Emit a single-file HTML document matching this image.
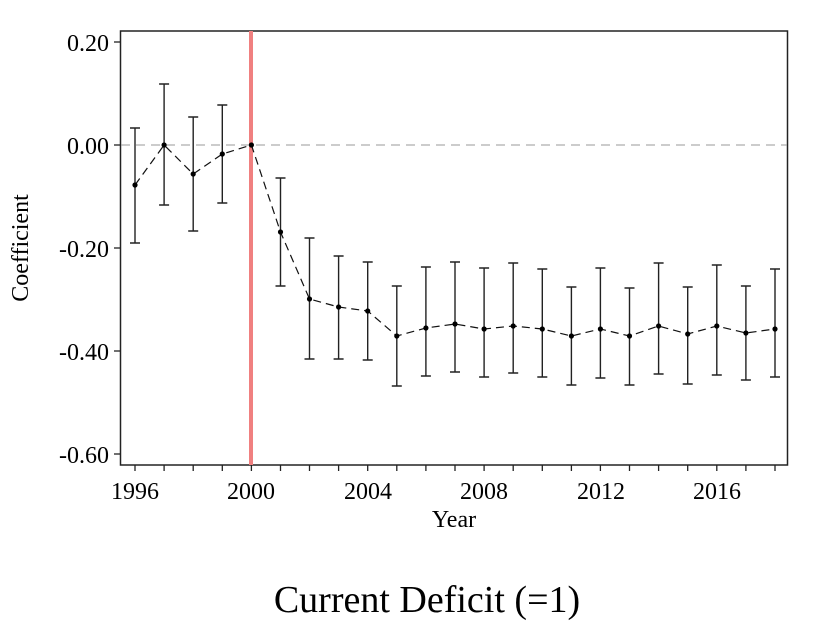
<!DOCTYPE html>
<html><head><meta charset="utf-8"><style>body{margin:0;background:#fff}svg{display:block}</style></head><body>
<svg width="817" height="627" xmlns="http://www.w3.org/2000/svg" font-family="Liberation Serif, serif">
<rect x="120.5" y="31" width="667" height="434" fill="none" stroke="#222" stroke-width="1.5"/>
<line x1="121" y1="145" x2="787" y2="145" stroke="#999" stroke-width="1" stroke-dasharray="9,6"/>
<line x1="251" y1="31" x2="251" y2="465" stroke="#f08080" stroke-width="4"/>
<g stroke="#222" stroke-width="1.3">
<line x1="114" y1="42" x2="120" y2="42"/><line x1="114" y1="145" x2="120" y2="145"/><line x1="114" y1="248" x2="120" y2="248"/><line x1="114" y1="351" x2="120" y2="351"/><line x1="114" y1="454" x2="120" y2="454"/>
<path d="M135 465v6M164.1 465v6M193.2 465v6M222.3 465v6M251.4 465v6M280.5 465v6M309.5 465v6M338.6 465v6M367.7 465v6M396.8 465v6M425.9 465v6M455 465v6M484.1 465v6M513.2 465v6M542.3 465v6M571.4 465v6M600.4 465v6M629.5 465v6M658.6 465v6M687.7 465v6M716.8 465v6M745.9 465v6M775 465v6"/>
</g>
<g font-size="24" text-anchor="end" fill="#000">
<text x="109" y="51">0.20</text><text x="109" y="154">0.00</text><text x="109" y="257">-0.20</text><text x="109" y="360">-0.40</text><text x="109" y="463">-0.60</text>
</g>
<g font-size="24" text-anchor="middle" fill="#000">
<text x="135" y="499">1996</text><text x="251" y="499">2000</text><text x="368" y="499">2004</text><text x="484" y="499">2008</text><text x="601" y="499">2012</text><text x="717" y="499">2016</text>
<text x="454" y="527">Year</text>
<text x="427" y="612" font-size="38">Current Deficit (=1)</text>
</g>
<text x="0" y="0" font-size="24" text-anchor="middle" transform="translate(28,248) rotate(-90)">Coefficient</text>
<path fill="none" stroke="#222" stroke-width="1.4" d="
M135 128V243M130 128h10M130 243h10
M164.1 84V205M159.1 84h10M159.1 205h10
M193.2 117V231M188.2 117h10M188.2 231h10
M222.3 105V203M217.3 105h10M217.3 203h10
M280.5 178V286M275.5 178h10M275.5 286h10
M309.5 238V359M304.5 238h10M304.5 359h10
M338.6 256V359M333.6 256h10M333.6 359h10
M367.7 262V360M362.7 262h10M362.7 360h10
M396.8 286V386M391.8 286h10M391.8 386h10
M425.9 267V376M420.9 267h10M420.9 376h10
M455 262V372M450 262h10M450 372h10
M484.1 268V377M479.1 268h10M479.1 377h10
M513.2 263V373M508.2 263h10M508.2 373h10
M542.3 269V377M537.3 269h10M537.3 377h10
M571.4 287V385M566.4 287h10M566.4 385h10
M600.4 268V378M595.4 268h10M595.4 378h10
M629.5 288V385M624.5 288h10M624.5 385h10
M658.6 263V374M653.6 263h10M653.6 374h10
M687.7 287V384M682.7 287h10M682.7 384h10
M716.8 265V375M711.8 265h10M711.8 375h10
M745.9 286V380M740.9 286h10M740.9 380h10
M775 269V377M770 269h10M770 377h10"/>
<polyline fill="none" stroke="#111" stroke-width="1.2" stroke-dasharray="8,5" points="135,185 164.1,145 193.2,174 222.3,154 251.4,145 280.5,232 309.5,299 338.6,307 367.7,311 396.8,336 425.9,328 455,324 484.1,329 513.2,326 542.3,329 571.4,336 600.4,329 629.5,336 658.6,326 687.7,334 716.8,326 745.9,333 775,329"/>
<g fill="#000">
<circle cx="135" cy="185" r="2.6"/><circle cx="164.1" cy="145" r="2.6"/><circle cx="193.2" cy="174" r="2.6"/><circle cx="222.3" cy="154" r="2.6"/><circle cx="251.4" cy="145" r="2.6"/><circle cx="280.5" cy="232" r="2.6"/><circle cx="309.5" cy="299" r="2.6"/><circle cx="338.6" cy="307" r="2.6"/><circle cx="367.7" cy="311" r="2.6"/><circle cx="396.8" cy="336" r="2.6"/><circle cx="425.9" cy="328" r="2.6"/><circle cx="455" cy="324" r="2.6"/><circle cx="484.1" cy="329" r="2.6"/><circle cx="513.2" cy="326" r="2.6"/><circle cx="542.3" cy="329" r="2.6"/><circle cx="571.4" cy="336" r="2.6"/><circle cx="600.4" cy="329" r="2.6"/><circle cx="629.5" cy="336" r="2.6"/><circle cx="658.6" cy="326" r="2.6"/><circle cx="687.7" cy="334" r="2.6"/><circle cx="716.8" cy="326" r="2.6"/><circle cx="745.9" cy="333" r="2.6"/><circle cx="775" cy="329" r="2.6"/>
</g>
</svg>
</body></html>
